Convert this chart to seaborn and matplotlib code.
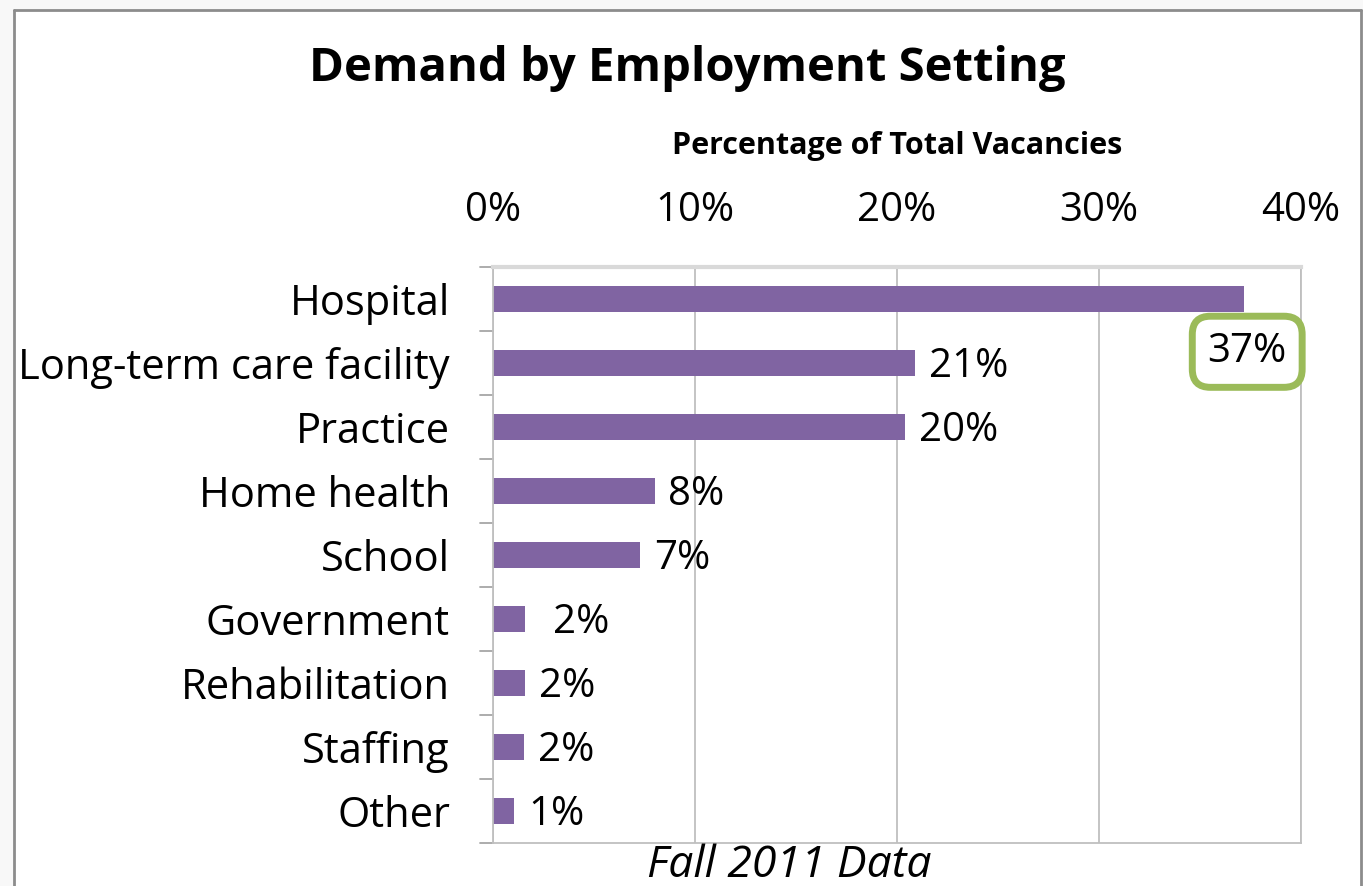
import matplotlib
matplotlib.use("Agg")
import matplotlib.pyplot as plt
import seaborn as sns
import pandas as pd
from matplotlib.lines import Line2D
from matplotlib.ticker import PercentFormatter

# Données
settings = ["Hospital", "Long-term care facility", "Practice", "Home health",
            "School", "Government", "Rehabilitation", "Staffing", "Other"]
pct = [37.2, 20.9, 20.4, 8.0, 7.3, 1.6, 1.6, 1.55, 1.05]
labels = ["37%", "21%", "20%", "8%", "7%", "2%", "2%", "2%", "1%"]

df = pd.DataFrame({"setting": settings, "pct": pct})

sns.set_style("white")
plt.rcParams["font.family"] = ["Open Sans", "DejaVu Sans"]
plt.rcParams["text.color"] = "black"
plt.rcParams["xtick.color"] = "black"
plt.rcParams["ytick.color"] = "black"
plt.rcParams["axes.labelcolor"] = "black"

fig = plt.figure(figsize=(13.63, 8.86), dpi=100)
fig.patch.set_facecolor("#f8f8f8")
# cadre blanc avec bordure grise (gauche, haut, droite)
fig.patches.append(plt.Rectangle((14 / 1363, 0), (1361 - 14) / 1363, 1 - 10 / 886,
                                 transform=fig.transFigure, facecolor="white",
                                 edgecolor="none", zorder=-10))
for xs, ys in [([14 / 1363, 14 / 1363], [0, 1 - 10 / 886]),
               ([14 / 1363, 1361 / 1363], [1 - 10 / 886, 1 - 10 / 886]),
               ([1361 / 1363, 1361 / 1363], [0, 1 - 10 / 886])]:
    fig.add_artist(Line2D(xs, ys, transform=fig.transFigure, color="#8c8c8c", lw=2))

ax = fig.add_axes([493 / 1363, 43 / 886, 808 / 1363, 576 / 886])
sns.barplot(data=df, x="pct", y="setting", color="#8064A2", saturation=1,
            width=0.41, linewidth=0, ax=ax)

ax.set_xlim(0, 40)
ax.set_xticks([0, 10, 20, 30, 40])
ax.xaxis.set_major_formatter(PercentFormatter(decimals=0))
ax.xaxis.tick_top()
ax.xaxis.set_label_position("top")
ax.set_xlabel("Percentage of Total Vacancies", fontsize=22, fontweight="bold", labelpad=26)
ax.set_ylabel("")
ax.tick_params(axis="x", length=0, labelsize=29, pad=26)
ax.tick_params(axis="y", length=0, labelsize=30, pad=31)
ax.grid(axis="x", color="#bfbfbf", lw=1.3)
ax.set_axisbelow(True)

for side in ["left", "bottom", "right"]:
    ax.spines[side].set_color("#bfbfbf")
    ax.spines[side].set_linewidth(1.3)
ax.spines["top"].set_color("#d9d9d9")
ax.spines["top"].set_linewidth(3)

# petites graduations entre catégories, vers la gauche
for k in range(len(settings) + 1):
    ax.plot([-0.016, 0], [k - 0.5, k - 0.5], color="#a6a6a6", lw=1.3,
            transform=ax.get_yaxis_transform(), clip_on=False)
ax.set_ylim(len(settings) - 0.5, -0.5)

# étiquettes de valeurs
for i, (v, lab) in enumerate(zip(pct, labels)):
    if i == 0:
        ax.annotate(lab, (v, i), xytext=(2, -38), textcoords="offset points",
                    ha="center", va="center", fontsize=29,
                    bbox=dict(boxstyle="round,pad=0.38,rounding_size=0.45",
                              facecolor="white", edgecolor="#9BBB59", lw=5))
    else:
        extra = 20 if settings[i] == "Government" else 10
        ax.annotate(lab, (v, i), xytext=(extra, -3), textcoords="offset points",
                    ha="left", va="center", fontsize=29)

fig.text(687 / 1363, 1 - 68 / 886, "Demand by Employment Setting", ha="center",
         va="center", fontsize=34, fontweight="bold")
fig.text(789 / 1363, 1 - 866 / 886, "Fall 2011 Data", ha="center", va="center",
         fontsize=32, style="italic")

fig.savefig("out.png", dpi=100, facecolor=fig.get_facecolor())
